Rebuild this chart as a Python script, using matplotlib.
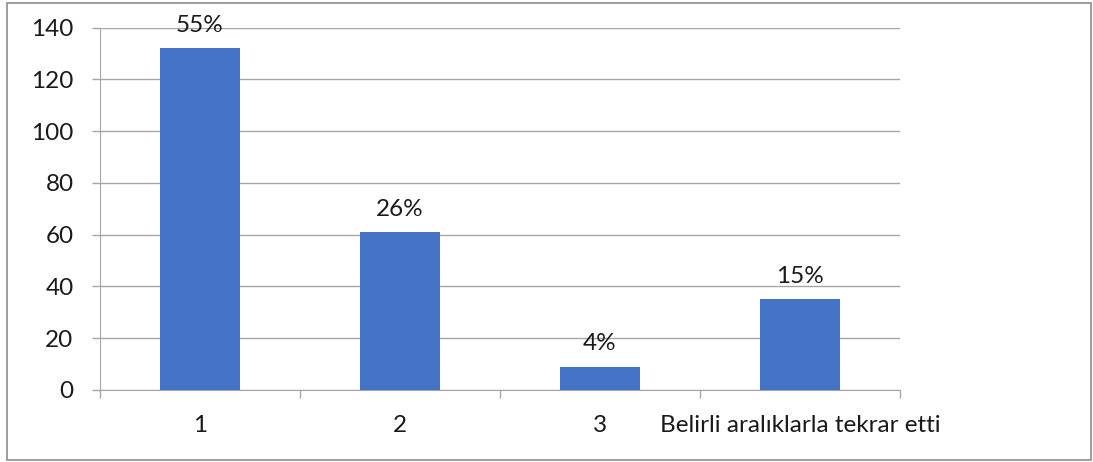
import matplotlib

matplotlib.use("Agg")

import matplotlib.pyplot as plt
from matplotlib.patches import Rectangle

categories = ["1", "2", "3", "Belirli aralıklarla tekrar etti"]
counts = [132, 61, 9, 35]
percent_labels = ["55%", "26%", "4%", "15%"]
y_ticks = [0, 20, 40, 60, 80, 100, 120, 140]

BAR_COLOR = "#4472C4"
GRID_COLOR = "#a6a6a6"
TEXT_COLOR = "#1a1a1a"
FONT_SIZE = 17.5

plt.rcParams["font.family"] = ["Lato", "DejaVu Sans"]

fig = plt.figure(figsize=(10.93, 4.62), dpi=100)
ax = fig.add_axes([100 / 1093, 1 - 390 / 462, 800 / 1093, 362.5 / 462])

positions = list(range(len(categories)))
ax.bar(positions, counts, width=0.4, color=BAR_COLOR, zorder=3)

for pos, value, label in zip(positions, counts, percent_labels):
    ax.annotate(label, (pos, value), xytext=(0, 16.5), textcoords="offset points",
                ha="center", va="center", fontsize=FONT_SIZE, color=TEXT_COLOR)

ax.set_xlim(-0.5, len(categories) - 0.5)
ax.set_ylim(0, 140)
ax.set_yticks(y_ticks)
ax.set_yticklabels([str(t) for t in y_ticks], fontsize=FONT_SIZE, color=TEXT_COLOR)
ax.yaxis.grid(True, color=GRID_COLOR, linewidth=1.0, zorder=0)
ax.set_axisbelow(True)

# category labels in the middle, tick marks on the boundaries
ax.set_xticks(positions)
ax.set_xticklabels(categories, fontsize=FONT_SIZE, color=TEXT_COLOR)
ax.tick_params(axis="x", length=0, pad=18)
ax.set_xticks([p - 0.5 for p in positions] + [len(categories) - 0.5], minor=True)
ax.tick_params(axis="x", which="minor", length=6, color=GRID_COLOR, width=1.0)
ax.tick_params(axis="y", length=6, color=GRID_COLOR, width=1.0, pad=13)

for side in ["top", "right"]:
    ax.spines[side].set_visible(False)
ax.spines["left"].set_color(GRID_COLOR)
ax.spines["bottom"].set_color(GRID_COLOR)

# outer chart border
fig.patches.append(Rectangle((7 / 1093, 2 / 462), 1084 / 1093, 457 / 462,
                             transform=fig.transFigure, fill=False,
                             edgecolor="#8c8c8c", linewidth=1.2))

fig.savefig("out.png", dpi=100)
plt.close(fig)
